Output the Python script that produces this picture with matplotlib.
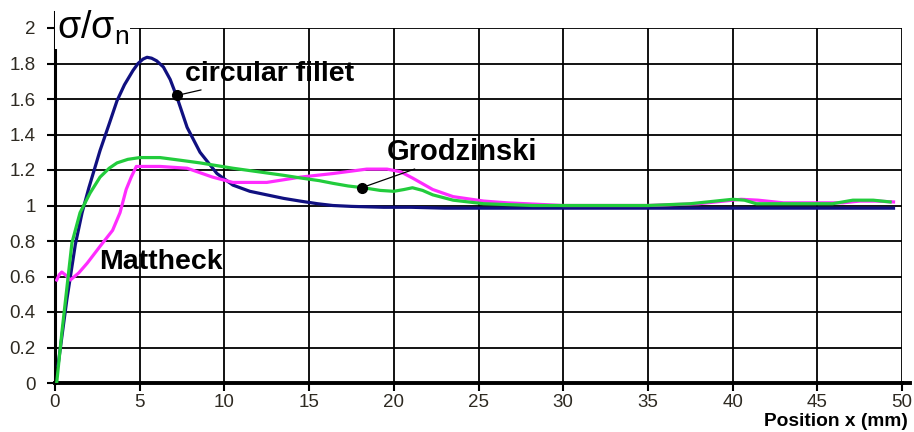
import matplotlib
matplotlib.use("Agg")
import matplotlib.pyplot as plt
from matplotlib.lines import Line2D

plt.rcParams['font.family'] = ['Liberation Sans', 'DejaVu Sans']

# Stress concentration along the notch surface
x_fillet = [0.18, 0.7, 1.2, 1.6, 2.0, 2.66, 3.2, 3.66, 4.1, 4.6, 4.9, 5.2, 5.43, 5.7, 6.0,
            6.4, 6.8, 7.2, 7.8, 8.56, 9.56, 10.5, 11.5, 12.5, 13.5, 14.46, 15.5, 16.4,
            17.5, 19.4, 21.0, 23.0, 26.0, 30.0, 35.0, 40.0, 45.0, 49.5]
y_fillet = [0.10, 0.47, 0.78, 0.96, 1.10, 1.31, 1.46, 1.59, 1.68, 1.76, 1.80, 1.825, 1.835,
            1.83, 1.815, 1.78, 1.71, 1.61, 1.44, 1.30, 1.18, 1.115, 1.08, 1.06, 1.04, 1.025,
            1.01, 1.0, 0.995, 0.99, 0.99, 0.985, 0.985, 0.985, 0.985, 0.985, 0.985, 0.985]

x_grod = [0.1, 0.4, 1.0, 1.48, 2.07, 2.66, 3.2, 3.66, 4.3, 5.0, 6.2, 7.4, 8.56, 10.5, 12.0,
          13.5, 14.5, 15.6, 16.4, 17.3, 18.2, 19.2, 20.0, 20.6, 21.1, 21.7, 22.3, 23.5,
          25.3, 28.2, 32.2, 35.0, 37.5, 39.0, 40.0, 40.7, 41.4, 44.0, 45.9, 47.1, 48.3, 49.3]
y_grod = [0.0, 0.28, 0.79, 0.96, 1.07, 1.16, 1.21, 1.24, 1.26, 1.27, 1.27, 1.255, 1.24,
          1.21, 1.19, 1.17, 1.155, 1.14, 1.125, 1.11, 1.10, 1.085, 1.08, 1.09, 1.10, 1.085,
          1.06, 1.03, 1.01, 1.0, 1.0, 1.0, 1.01, 1.025, 1.035, 1.03, 1.01, 1.01, 1.01, 1.03,
          1.03, 1.02]

x_matt = [0.1, 0.25, 0.4, 0.6, 0.9, 1.4, 1.9, 2.66, 3.4, 3.84, 4.2, 4.5, 4.8, 6.2, 7.8,
          9.3, 10.5, 12.5, 14.5, 16.4, 18.4, 19.6, 20.4, 21.1, 22.3, 23.5, 25.3, 26.7,
          30.0, 35.0, 38.0, 40.0, 40.5, 41.5, 43.0, 45.0, 46.5, 47.5, 48.5, 49.5]
y_matt = [0.58, 0.61, 0.625, 0.61, 0.58, 0.62, 0.675, 0.77, 0.86, 0.96, 1.09, 1.16, 1.22,
          1.22, 1.21, 1.16, 1.13, 1.13, 1.16, 1.18, 1.205, 1.205, 1.19, 1.155, 1.09, 1.05,
          1.025, 1.015, 1.0, 1.0, 1.01, 1.03, 1.035, 1.03, 1.015, 1.015, 1.015, 1.025,
          1.025, 1.02]

x_ticks = [0, 5, 10, 15, 20, 25, 30, 35, 40, 45, 50]
y_ticks = [0, 0.2, 0.4, 0.6, 0.8, 1, 1.2, 1.4, 1.6, 1.8, 2]
y_tick_labels = ['0', '0.2', '0.4', '0.6', '0.8', '1', '1.2', '1.4', '1.6', '1.8', '2']

W, H = 914, 432
fig = plt.figure(figsize=(W / 100, H / 100), dpi=100)
ax = fig.add_axes([55 / W, 49 / H, 847 / W, 355 / H])

ax.set_xlim(0, 50)
ax.set_ylim(0, 2)
ax.set_xticks(x_ticks)
ax.set_yticks(y_ticks)
ax.set_yticklabels(y_tick_labels)
ax.grid(True, color='black', linewidth=1.3)
ax.set_axisbelow(True)

for side in ('top', 'right'):
    ax.spines[side].set_visible(False)
ax.spines['left'].set_linewidth(2.2)
ax.spines['bottom'].set_linewidth(2.8)

ax.tick_params(direction='out', length=6, width=1.5, colors='black',
               labelcolor='#2e2a22', labelsize=13.5)
ax.tick_params(axis='y', pad=8)
ax.tick_params(axis='x', pad=2)

# extend the left axis above the top grid line and the bottom axis past 50
ax.add_line(Line2D([0, 0], [2, 2.09], color='black', linewidth=2.2, clip_on=False))
ax.add_line(Line2D([50, 50.5], [0, 0], color='black', linewidth=2.8, clip_on=False))

ax.plot(x_fillet, y_fillet, color='#101080', linewidth=2.3, zorder=3)
ax.plot(x_matt, y_matt, color='#ff2cff', linewidth=2.3, zorder=4)
ax.plot(x_grod, y_grod, color='#22cc3c', linewidth=2.3, zorder=5)

# y-quantity label sitting on the top grid line
ax.text(0.1, 2.0, r'σ/σ$_\mathregular{n}$', fontsize=27, va='center', ha='left',
        bbox=dict(facecolor='white', edgecolor='none', pad=1), zorder=6)

# curve annotations
ax.plot([7.2], [1.62], 'o', color='black', markersize=7, zorder=7)
ax.annotate('circular fillet', xy=(7.2, 1.62), xytext=(7.7, 1.74),
            fontsize=20.5, fontweight='bold', va='center', ha='left',
            arrowprops=dict(arrowstyle='-', color='black', lw=0.9, shrinkA=0, shrinkB=0),
            zorder=7)

ax.plot([18.1], [1.10], 'o', color='black', markersize=7, zorder=7)
ax.annotate('Grodzinski', xy=(18.1, 1.10), xytext=(19.6, 1.30),
            fontsize=21, fontweight='bold', va='center', ha='left',
            arrowprops=dict(arrowstyle='-', color='black', lw=0.9, shrinkA=0, shrinkB=0),
            zorder=7)

ax.text(2.6, 0.68, 'Mattheck', fontsize=20.5, fontweight='bold', va='center', ha='left',
        zorder=7)

fig.text(908 / W, 2 / H, 'Position x (mm)', fontsize=13.8, fontweight='bold',
         ha='right', va='bottom')

fig.savefig('out.png', dpi=100, facecolor='white')
